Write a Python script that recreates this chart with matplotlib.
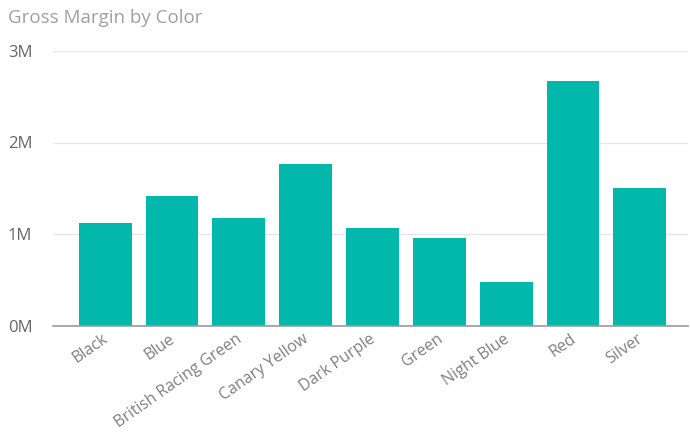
import matplotlib
matplotlib.use("Agg")
import matplotlib.pyplot as plt
from matplotlib.ticker import FuncFormatter
from matplotlib.transforms import ScaledTranslation

categories = ["Black", "Blue", "British Racing Green", "Canary Yellow", "Dark Purple",
              "Green", "Night Blue", "Red", "Silver"]
gross_margin = [1.12e6, 1.41e6, 1.17e6, 1.76e6, 1.07e6, 0.96e6, 0.47e6, 2.67e6, 1.50e6]
y_ticks = [0, 1e6, 2e6, 3e6]

plt.rcParams['font.family'] = ['Open Sans', 'DejaVu Sans']

fig = plt.figure(figsize=(6.9, 4.32), dpi=100)
ax = fig.add_axes([53/690, 1-325.5/432, (688-53)/690, (325.5-51)/432])

x = range(len(categories))
ax.bar(x, gross_margin, width=0.79, color="#01B8AA", zorder=2)

ax.set_ylim(0, 3e6)
ax.set_xlim(-0.78, 8.72)
ax.set_yticks(y_ticks)
ax.yaxis.set_major_formatter(FuncFormatter(lambda v, p: f"{int(round(v/1e6))}M"))
ax.grid(axis='y', color="#e6e6e6", linewidth=1, zorder=0)
ax.set_axisbelow(True)
for s in ["top", "right", "left"]:
    ax.spines[s].set_visible(False)
ax.spines["bottom"].set_color("#9a9a9a")
ax.spines["bottom"].set_linewidth(1.2)
ax.spines["bottom"].set_zorder(3)

ax.set_xticks(list(x))
ax.set_xticklabels(categories, rotation=35, ha='right', rotation_mode='anchor',
                   fontsize=11.5, color="#808080")
ax.tick_params(axis='x', length=0, pad=4)
offset = ScaledTranslation(-3/100, 0, fig.dpi_scale_trans)
for lbl in ax.get_xticklabels():
    lbl.set_transform(lbl.get_transform() + offset)
ax.tick_params(axis='y', length=0, pad=32.4, labelsize=12, labelcolor="#666666")
for lbl in ax.get_yticklabels():
    lbl.set_horizontalalignment('left')

fig.text(8/690, 1-18/432, "Gross Margin by Color", fontsize=13.5, color="#a0a0a0",
         va='center', ha='left')

fig.savefig("out.png", dpi=100, facecolor="white")
